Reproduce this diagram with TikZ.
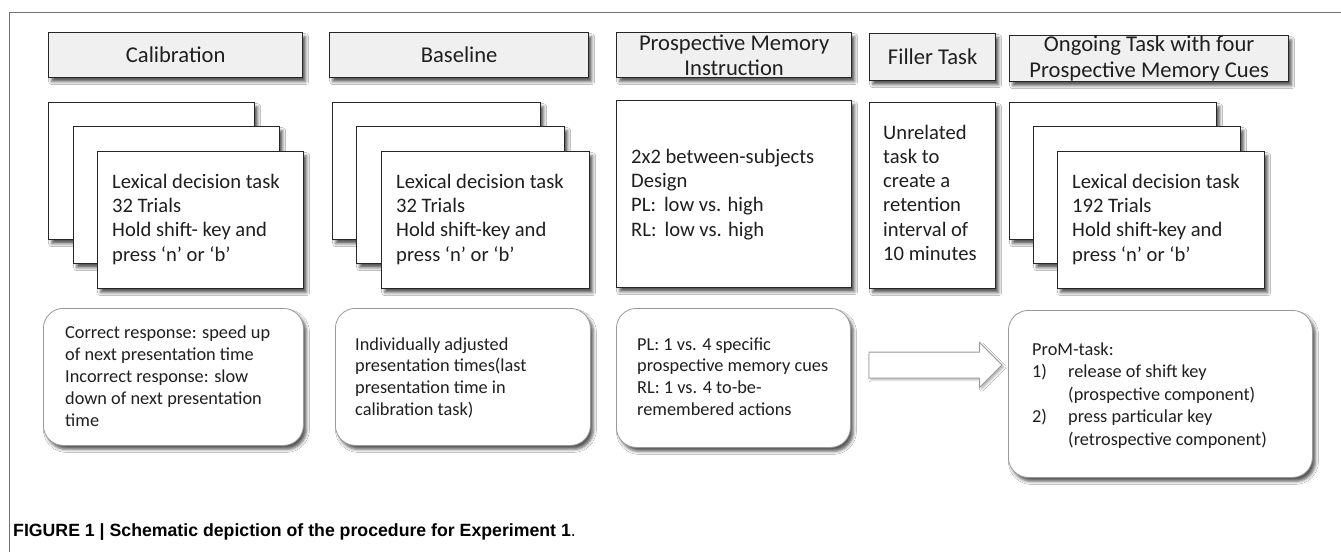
\documentclass[tikz,border=0pt]{standalone}
\usepackage{fontspec}
\setmainfont{Carlito}
\newfontfamily\capfont{Liberation Sans}
\usetikzlibrary{shadows.blur,shapes.arrows}
\tikzset{
  shd/.style={blur shadow={shadow xshift=3pt, shadow yshift=-4pt, shadow blur radius=3pt, shadow opacity=65}},
  hdr/.style={draw=black!85, line width=1.3pt, fill=black!6, anchor=north west, inner sep=0pt, align=center,
              font=\fontsize{22.6}{25.5}\selectfont, text=black!88, shd},
  card/.style={draw=black!85, line width=1.3pt, fill=white, anchor=north west, inner sep=0pt, shd},
  cardtxt/.style={anchor=base west, align=left, inner sep=0pt, font=\fontsize{20.6}{24.3}\selectfont, text=black!88},
  note/.style={draw=black!40, line width=0.8pt, fill=white, rounded corners=20pt, anchor=north west, inner sep=0pt, shd},
  notetxt/.style={anchor=base west, align=left, inner sep=0pt, font=\fontsize{18.3}{21.8}\selectfont, text=black!88},
  blockarrow/.style={single arrow, draw=black!40, line width=0.8pt, fill=white, minimum height=133pt,
              inner xsep=0pt, inner ysep=12.5pt, single arrow head extend=9.5pt, outer sep=0pt,
              blur shadow={shadow xshift=2pt, shadow yshift=-2pt, shadow blur radius=2pt, shadow opacity=30}},
  frame/.style={draw=black!55, line width=0.8pt},
}
\begin{document}
\begin{tikzpicture}[x=1pt,y=-1pt]
\useasboundingbox (0,0) rectangle (1341,552);
\fill[white] (0,0) rectangle (1341,552);
\draw[frame] (1341,12) -- (9,12) -- (9,552);

% headers
\node[hdr, minimum width=254pt, minimum height=45pt] (hCal) at (48,32) {Calibration};
\node[hdr, minimum width=259pt, minimum height=45pt] (hBase) at (329,32) {Baseline};
\node[hdr, minimum width=235pt, minimum height=45pt] (hPM) at (616,32) {Prospective Memory\\Instruction};
\node[hdr, minimum width=126pt, minimum height=47pt] (hFill) at (869,33) {Filler Task};
\node[hdr, minimum width=279pt, minimum height=46pt] (hOn) at (1009,35) {Ongoing Task with four\\Prospective Memory Cues};

% calibration cards
\node[card, minimum width=206pt, minimum height=137pt] (cA1) at (48,102) {};
\node[card, minimum width=206pt, minimum height=137pt] (cA2) at (73,126) {};
\node[card, minimum width=206pt, minimum height=137pt] (cA3) at (97,151) {};
\node[cardtxt] (tA) at (112,261) {Lexical decision task\\32 Trials\\Hold shift- key and\\press ‘n’ or ‘b’};

% baseline cards
\node[card, minimum width=208pt, minimum height=137pt] (cB1) at (332,102) {};
\node[card, minimum width=208pt, minimum height=137pt] (cB2) at (356,126) {};
\node[card, minimum width=208pt, minimum height=137pt] (cB3) at (381,151) {};
\node[cardtxt] (tB) at (396,261) {Lexical decision task\\32 Trials\\Hold shift-key and\\press ‘n’ or ‘b’};

% PM instruction box
\node[card, minimum width=235pt, minimum height=187pt] (cP) at (616,100) {};
\node[cardtxt] (tP) at (631,236) {2x2 between-subjects\\Design\\PL:\hspace{8pt}low vs. high\\RL:\hspace{8pt}low vs. high};

% filler box
\node[card, minimum width=126pt, minimum height=186pt] (cF) at (869,102) {};
\node[cardtxt] (tF) at (883,260.5) {Unrelated\\task to\\create a\\retention\\interval of\\10 minutes};

% ongoing cards
\node[card, minimum width=207pt, minimum height=137pt] (cO1) at (1009,102) {};
\node[card, minimum width=207pt, minimum height=137pt] (cO2) at (1033,126) {};
\node[card, minimum width=207pt, minimum height=137pt] (cO3) at (1057,151) {};
\node[cardtxt] (tO) at (1072,261) {Lexical decision task\\192 Trials\\Hold shift-key and\\press ‘n’ or ‘b’};

% bottom notes
\node[note, minimum width=260pt, minimum height=137pt] (nA) at (43,308) {};
\node[notetxt] (tnA) at (65,426) {Correct response: speed up\\of next presentation time\\Incorrect response: slow\\down of next presentation\\time};
\node[note, minimum width=255pt, minimum height=137pt] (nB) at (335,308) {};
\node[notetxt] (tnB) at (355,415.5) {Individually adjusted\\presentation times(last\\presentation time in\\calibration task)};
\node[note, minimum width=234pt, minimum height=139pt] (nP) at (616,308) {};
\node[notetxt] (tnP) at (637,415.5) {PL: 1 vs. 4 specific\\prospective memory cues\\RL: 1 vs. 4 to-be-\\remembered actions};
\node[note, minimum width=304pt, minimum height=167pt] (nO) at (1008,310) {};
\node[notetxt, font=\fontsize{18.3}{22.5}\selectfont] (tnO) at (1032,445) {ProM-task:\\\makebox[36pt][l]{1)}release of shift key\\\hspace*{36pt}(prospective component)\\\makebox[36pt][l]{2)}press particular key\\\hspace*{36pt}(retrospective component)};

% block arrow
\node[blockarrow] (arr) at (929,365) {};

% caption
\node[anchor=base west, inner sep=0pt, font=\capfont\fontsize{17.7}{20}\selectfont] (cap) at (13,536)
  {\textbf{FIGURE 1 | Schematic depiction of the procedure for Experiment 1}.};
\end{tikzpicture}
\end{document}
